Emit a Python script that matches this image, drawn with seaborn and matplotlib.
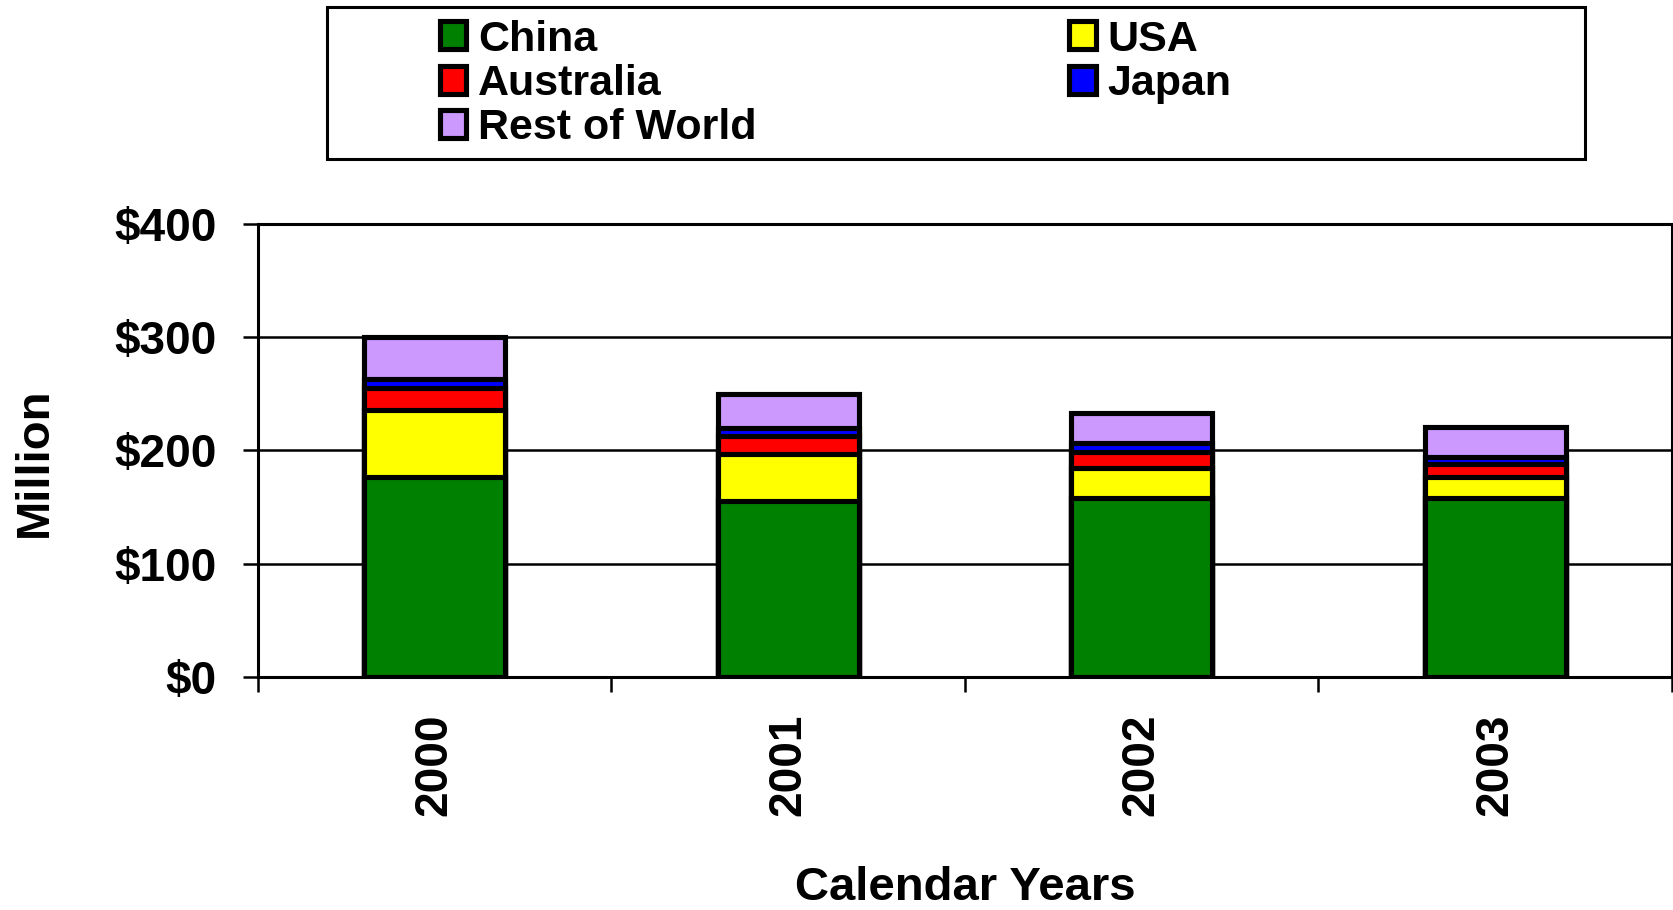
import pandas as pd
import seaborn as sns
import matplotlib.pyplot as plt
from matplotlib.patches import Patch, Rectangle

# values ($ million)
years = ["2000", "2001", "2002", "2003"]
china = [177, 155, 158, 158]
usa = [58.5, 42, 26.5, 19]
australia = [19.5, 16, 14.5, 11]
japan = [8.5, 7, 8, 6.5]
rest_of_world = [36.5, 30, 26, 26]

names = ["China", "USA", "Australia", "Japan", "Rest of World"]
colors = ["#008000", "#FFFF00", "#FF0000", "#0000FF", "#CC99FF"]

df = pd.DataFrame({"year": years, "China": china, "USA": usa,
                   "Australia": australia, "Japan": japan,
                   "Rest of World": rest_of_world})
# cumulative heights, drawn tallest first so each layer sits on top
cum = df[names].cumsum(axis=1)
cum["year"] = df["year"]

sns.set_style("white")
plt.rcParams["font.family"] = ["Liberation Sans", "DejaVu Sans"]
plt.rcParams["font.weight"] = "bold"
plt.rcParams["font.size"] = 33
for k in ["text.color", "axes.labelcolor", "xtick.color", "ytick.color"]:
    plt.rcParams[k] = "black"

fig = plt.figure(figsize=(16.73, 9.10), dpi=100)
ax = fig.add_axes([0.1542, 0.256, 0.8452, 0.498])

for name, col in reversed(list(zip(names, colors))):
    sns.barplot(data=cum, x="year", y=name, color=col, saturation=1,
                edgecolor="black", linewidth=3.7, width=0.4,
                errorbar=None, ax=ax, zorder=3)

ax.set_ylim(0, 400)
ax.set_xlim(-0.5, 3.5)
ax.set_yticks([0, 100, 200, 300, 400])
ax.set_yticklabels(["$%d" % v for v in [0, 100, 200, 300, 400]])
ax.yaxis.grid(True, color="black", linewidth=1.8, zorder=0)
ax.set_axisbelow(True)

# ticks at category borders, labels at the centres
ax.set_xticks([-0.5, 0.5, 1.5, 2.5, 3.5])
ax.set_xticklabels([])
ax.set_xticks([0, 1, 2, 3], minor=True)
ax.set_xticklabels(years, minor=True, rotation=90, fontweight="bold")
ax.tick_params(axis="x", which="major", direction="out", length=11, width=1.8, bottom=True)
ax.tick_params(axis="x", which="minor", length=0, pad=26)
ax.tick_params(axis="y", direction="out", length=11, width=1.8, left=True, pad=19)

for s in ax.spines.values():
    s.set_color("black")
    s.set_linewidth(2.2)

ax.set_xlabel("Calendar Years", fontweight="bold", fontsize=34)
ax.set_ylabel("Million", fontweight="bold", fontsize=34)
ax.xaxis.set_label_coords(0.5, -0.417)
ax.yaxis.set_label_coords(-0.142, 0.475)

# legend box drawn separately, entries placed inside
fig.patches.append(Rectangle((327 / 1673, 1 - 159 / 910), 1258 / 1673, 152 / 910,
                             transform=fig.transFigure, fill=False,
                             edgecolor="black", linewidth=2.2))
order = [0, 2, 4, 1, 3]
handles = [Patch(facecolor=colors[i], edgecolor="black", linewidth=3.7, label=names[i])
           for i in order]
fig.legend(handles=handles, ncol=2, loc="upper left",
           bbox_to_anchor=(418 / 1673, 1 + 2 / 910), frameon=False,
           handlelength=0.62, handleheight=0.62, handletextpad=0.28,
           labelspacing=0.1, columnspacing=7.25, borderpad=0,
           prop={"weight": "bold", "size": 31})

fig.savefig("out.png", dpi=100)
